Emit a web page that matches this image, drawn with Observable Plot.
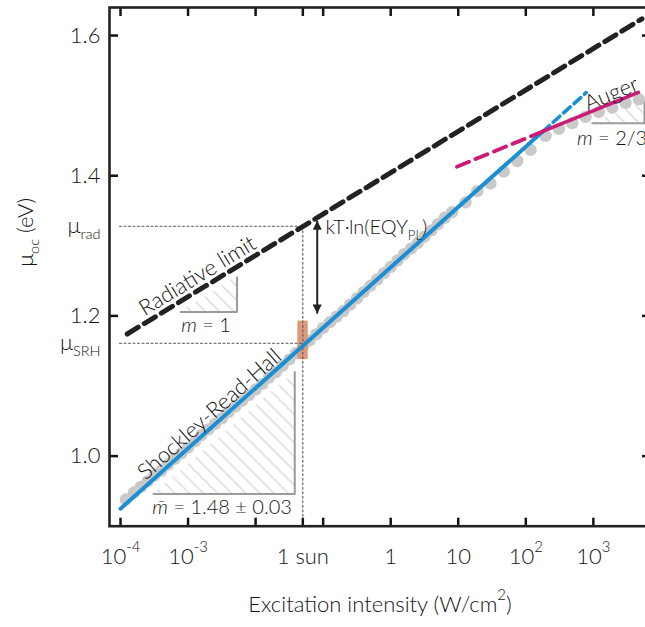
<!DOCTYPE html>
<html><head><meta charset="utf-8">
<script src="https://cdn.jsdelivr.net/npm/d3@7"></script>
<script src="https://cdn.jsdelivr.net/npm/@observablehq/plot@0.6"></script>
<style>
html,body{margin:0;padding:0;background:#fff;overflow:hidden;}
#chart{width:645px;height:627px;}
</style></head><body><div id="chart"></div>
<script>
// ---- data ----
const intensity = [1.2e-4, 1.58e-4, 2.0e-4, 2.51e-4, 3.16e-4, 3.98e-4, 5.01e-4, 6.31e-4, 7.94e-4,
  1.0e-3, 1.26e-3, 1.58e-3, 2.0e-3, 2.51e-3, 3.16e-3, 3.98e-3, 5.01e-3, 6.31e-3, 7.94e-3,
  1.0e-2, 1.26e-2, 1.58e-2, 2.0e-2, 2.51e-2, 3.16e-2, 3.98e-2, 5.01e-2, 6.31e-2, 7.94e-2,
  0.1, 0.126, 0.158, 0.2, 0.251, 0.316, 0.398, 0.501, 0.631, 0.794,
  1.0, 1.26, 1.58, 2.0, 2.51, 3.16, 3.98, 5.01, 6.31,
  8.13, 12.8, 19.1, 30.0, 47.2, 74.6, 117.5, 196, 308, 486, 766, 1205, 1901, 2992, 4710];
const muOC = [0.938, 0.948, 0.956, 0.964, 0.972, 0.979, 0.988, 0.996, 1.004,
  1.012, 1.021, 1.030, 1.038, 1.046, 1.054, 1.063, 1.071, 1.079, 1.087,
  1.095, 1.103, 1.112, 1.120, 1.129, 1.138, 1.147, 1.156, 1.165, 1.174,
  1.183, 1.191, 1.199, 1.207, 1.216, 1.225, 1.234, 1.243, 1.252, 1.261,
  1.270, 1.279, 1.288, 1.296, 1.304, 1.313, 1.322, 1.331, 1.340,
  1.348, 1.362, 1.378, 1.389, 1.406, 1.421, 1.437, 1.457, 1.467, 1.475, 1.484, 1.491, 1.497, 1.504, 1.509];

const radiativeX = [1.256e-4, 5248];
const radiativeY = [1.1742, 1.6239];
const srhSolidX = [1e-4, 178];
const srhSolidY = [0.925, 1.463];
const srhDashX = [178, 782];
const srhDashY = [1.463, 1.5185];
const augerDashX = [9.57, 178];
const augerDashY = [1.4129, 1.4632];
const augerSolidX = [178, 4645];
const augerSolidY = [1.4632, 1.519];

const oneSun = 0.05;
const muRad = 1.328;
const muSRH = 1.161;
const guideStartX = 9.66e-5;
const sunBoxX = [0.0422, 0.0601];
const sunBoxY = [1.1377, 1.1926];
const arrowX = 0.0817;
const arrowY = [1.3356, 1.2033];

// slope triangles: radiative, SRH, Auger
const triXLeft = [7.73e-4, 3.08e-4, 962];
const triXCorner = [5.31e-3, 0.038, 5715];
const triYBase = [1.2056, 0.9461, 1.4747];
const triYTop = [1.2551, 1.1199, 1.5053];

const annoText = ["Radiative limit", "Shockley-Read-Hall", "Auger", "{*m} = 1", "{*m\u0304} = 1.48 ± 0.03", "{*m} = 2/3", "kT·ln(EQY{_PL})"];
const annoX = [1.38e-3, 2.08e-3, 1854, 1.85e-3, 3.19e-3, 574, 0.108];
const annoY = [1.257, 1.0594, 1.5166, 1.1866, 0.927, 1.4533, 1.3259];
const annoAngle = [-31.4, -41.7, -22.3, 0, 0, 0, 0];
const annoAnchor = ["middle", "middle", "middle", "middle", "middle", "start", "start"];
const annoSize = [22, 22, 22, 20, 20, 20, 20];

const xTickValues = [1e-4, 1e-3, 1e-2, 0.05, 0.1, 1, 10, 100, 1000];
const xTickLabels = ["10{^-4}", "10{^-3}", "", "1 sun", "", "1", "10", "10{^2}", "10{^3}"];
const yTickValues = [1.0, 1.2, 1.4, 1.6];
const yLabelValues = [1.0, 1.2, 1.4, 1.6, 1.328, 1.161];
const yLabelText = ["1.0", "1.2", "1.4", "1.6", "μ{_rad}", "μ{_SRH}"];
const xTitle = "Excitation intensity (W/cm{^2})";
const yTitle = "μ{_oc} (eV)";

// ---- derived tables ----
const points = intensity.map((x, i) => ({x, y: muOC[i]}));
const pairs = (xs, ys) => xs.map((x, i) => ({x, y: ys[i]}));
const triArea = triXLeft.flatMap((xl, k) => [
  {x: xl, y1: triYBase[k], y2: triYBase[k], k},
  {x: triXCorner[k], y1: triYBase[k], y2: triYTop[k], k}]);
const triLegs = triXLeft.flatMap((xl, k) => [
  {x: xl, y: triYBase[k], k}, {x: triXCorner[k], y: triYBase[k], k}, {x: triXCorner[k], y: triYTop[k], k}]);
const annotations = annoText.map((t, i) => ({t, x: annoX[i], y: annoY[i], a: annoAngle[i], anchor: annoAnchor[i], s: annoSize[i]}));
const xTicks = xTickValues.map((v, i) => ({v, t: xTickLabels[i]})).filter(d => d.t !== "");
const yLab = new Map(yLabelValues.map((v, i) => [v, yLabelText[i]]));

const defs = () => {
  const d = d3.create("svg:defs");
  const p = d.append("pattern").attr("id", "hatch").attr("patternUnits", "userSpaceOnUse")
    .attr("width", 10).attr("height", 10).attr("patternTransform", "rotate(-45)");
  p.append("line").attr("x1", 5).attr("y1", 0).attr("x2", 5).attr("y2", 10)
    .attr("stroke", "#d9d9d9").attr("stroke-width", 1.4);
  const m = d.append("marker").attr("id", "ahead").attr("viewBox", "0 0 10 10")
    .attr("refX", 10).attr("refY", 5).attr("markerUnits", "userSpaceOnUse")
    .attr("markerWidth", 14).attr("markerHeight", 9).attr("orient", "auto-start-reverse");
  m.append("path").attr("d", "M0,0L10,5L0,10Z").attr("fill", "#222");
  return d.node();
};

const dark = "#141414";
const plot = Plot.plot({
  width: 645, height: 627,
  marginLeft: 109, marginRight: -5, marginTop: 7, marginBottom: 101.3,
  x: {type: "log", domain: [6.87e-5, 7015]},
  y: {domain: [0.9, 1.64]},
  style: {fontFamily: "Lato, 'Open Sans', sans-serif", fontWeight: 300, fontSize: "22px", color: dark, background: "white"},
  marks: [
    defs,
    Plot.areaY(triArea, {x: "x", y1: "y1", y2: "y2", z: "k", fill: "url(#hatch)", curve: "linear"}),
    Plot.line(triLegs, {x: "x", y: "y", z: "k", stroke: "#9b9b9b", strokeWidth: 2}),
    Plot.dot(points, {x: "x", y: "y", r: 6.2, fill: "#c9c9c9", stroke: "none"}),
    Plot.rect([0], {x1: () => sunBoxX[0], x2: () => sunBoxX[1], y1: () => sunBoxY[0], y2: () => sunBoxY[1], fill: "#dd9a7a"}),
    Plot.line([{x: guideStartX, y: muRad}, {x: oneSun, y: muRad}], {x: "x", y: "y", stroke: "#555", strokeWidth: 1.1, strokeDasharray: "2,2.5"}),
    Plot.line([{x: guideStartX, y: muSRH}, {x: oneSun, y: muSRH}], {x: "x", y: "y", stroke: "#555", strokeWidth: 1.1, strokeDasharray: "2,2.5"}),
    Plot.line([{x: oneSun, y: muRad}, {x: oneSun, y: 0.9}], {x: "x", y: "y", stroke: "#555", strokeWidth: 1.1, strokeDasharray: "2,2.5"}),
    Plot.line(pairs(srhSolidX, srhSolidY), {x: "x", y: "y", stroke: "#1b8fd2", strokeWidth: 4}),
    Plot.line(pairs(srhDashX, srhDashY), {x: "x", y: "y", stroke: "#1b8fd2", strokeWidth: 3.6, strokeDasharray: "9,5"}),
    Plot.line(pairs(augerDashX, augerDashY), {x: "x", y: "y", stroke: "#cc1a77", strokeWidth: 3.8, strokeDasharray: "13,7"}),
    Plot.line(pairs(augerSolidX, augerSolidY), {x: "x", y: "y", stroke: "#cc1a77", strokeWidth: 3.6}),
    Plot.line(pairs(radiativeX, radiativeY), {x: "x", y: "y", stroke: "#222", strokeWidth: 5, strokeDasharray: "13,7"}),
    Plot.link([0], {x1: () => arrowX, x2: () => arrowX, y1: () => arrowY[0], y2: () => arrowY[1], stroke: "#222", strokeWidth: 2, className: "kt-arrow"}),
    Plot.text(annotations.filter(d => d.anchor === "middle"), {x: "x", y: "y", text: "t", rotate: "a", textAnchor: "middle", fontSize: "s", fill: dark}),
    Plot.text(annotations.filter(d => d.anchor === "start"), {x: "x", y: "y", text: "t", textAnchor: "start", fontSize: "s", fill: dark}),
    // ticks (inward) on all four sides
    Plot.axisX(xTickValues, {anchor: "bottom", tickSize: -8, fill: "none", strokeWidth: 2.5, label: null}),
    Plot.axisX(xTickValues, {anchor: "top", tickSize: -8, fill: "none", strokeWidth: 2.5, label: null}),
    Plot.axisY(yTickValues, {anchor: "left", tickSize: -9, fill: "none", strokeWidth: 2.5, label: null}),
    Plot.axisY(yTickValues, {anchor: "right", tickSize: -9, fill: "none", strokeWidth: 2.5, label: null}),
    // tick labels
    Plot.text(xTicks, {x: "v", text: "t", frameAnchor: "bottom", lineAnchor: "top", dy: 22, fontSize: 22, fill: dark}),
    Plot.axisY({ticks: yLabelValues, anchor: "left", tickSize: 0, tickPadding: 9, tickFormat: d => yLab.get(d), label: null, fontSize: 22}),
    Plot.text([xTitle], {frameAnchor: "bottom", dy: 86, fontSize: 22, fill: dark}),
    Plot.text([yTitle], {frameAnchor: "left", dx: -84, rotate: -90, fontSize: 22, fill: dark}),
    Plot.frame({stroke: "#222", strokeWidth: 2.6})
  ]
});
document.getElementById("chart").appendChild(plot);

// arrowheads on the double arrow
d3.select(plot).selectAll(".kt-arrow path").attr("marker-start", "url(#ahead)").attr("marker-end", "url(#ahead)");

// sub/superscript & italic markup -> tspans
function richText(root) {
  root.querySelectorAll("text").forEach(el => {
    const s = el.textContent;
    if (!/\{[_^*]/.test(s)) return;
    const fs = parseFloat(getComputedStyle(el).fontSize) || 22;
    el.textContent = "";
    let shift = 0;
    for (const part of s.split(/(\{[_^*][^}]*\})/)) {
      if (!part) continue;
      const m = part.match(/^\{([_^*])([^}]*)\}$/);
      const ts = document.createElementNS("http://www.w3.org/2000/svg", "tspan");
      let target = 0;
      if (m && m[1] === "_") { target = 0.28 * fs; ts.setAttribute("font-size", (0.66 * fs) + "px"); }
      else if (m && m[1] === "^") { target = -0.55 * fs; ts.setAttribute("font-size", (0.68 * fs) + "px"); }
      else if (m && m[1] === "*") { ts.setAttribute("font-style", "italic"); }
      if (target - shift !== 0) ts.setAttribute("dy", target - shift);
      shift = target;
      ts.textContent = m ? m[2] : part;
      el.appendChild(ts);
    }
  });
}
richText(plot);
</script>
</body></html>
